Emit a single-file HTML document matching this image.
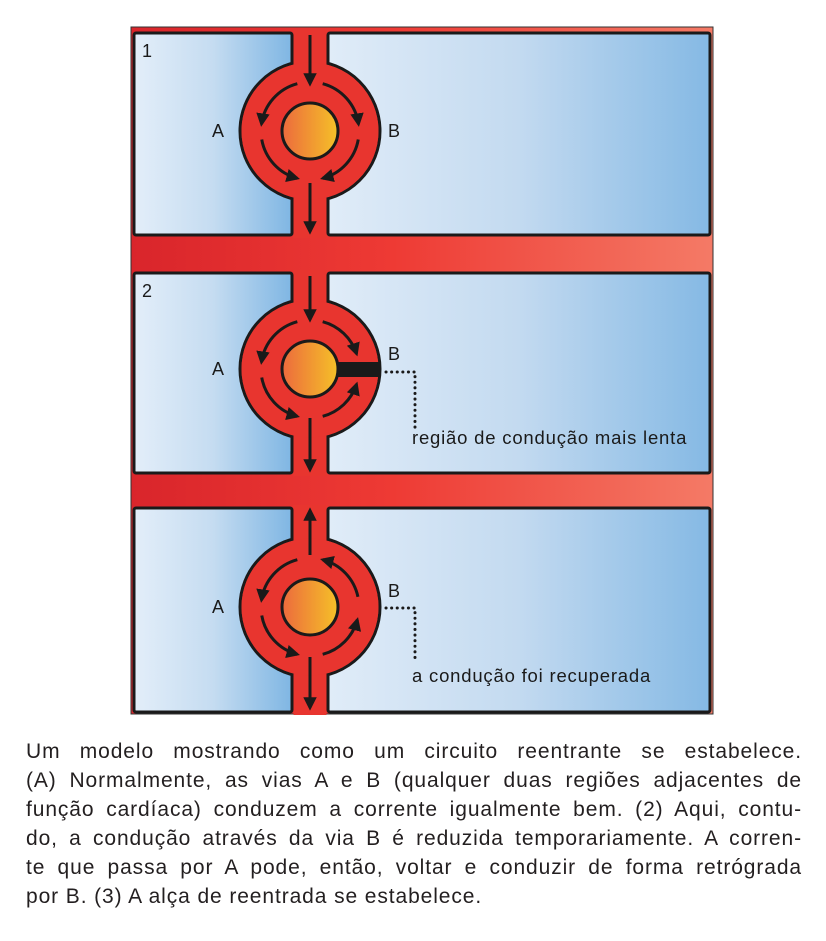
<!DOCTYPE html>
<html><head><meta charset="utf-8"><style>
body{margin:0;background:#fff;width:826px;height:941px;overflow:hidden;font-family:"Liberation Sans",sans-serif}
#cap{position:absolute;left:26px;top:737px;width:776px;font-size:21px;letter-spacing:0.9px;line-height:29px;color:#231f20}
#cap div{text-align:justify;text-align-last:justify;white-space:nowrap}
#cap div.last{text-align-last:left}
</style></head><body>
<svg width="826" height="730" style="position:absolute;left:0;top:0" font-family="Liberation Sans, sans-serif">
<defs>
<linearGradient id="red" x1="0" x2="1"><stop offset="0" stop-color="#d9252b"/><stop offset="0.45" stop-color="#ee3a34"/><stop offset="1" stop-color="#f47a66"/></linearGradient>
<linearGradient id="blueL" x1="0" x2="1"><stop offset="0" stop-color="#e3eef9"/><stop offset="0.5" stop-color="#c5dcf1"/><stop offset="1" stop-color="#7fb6e3"/></linearGradient>
<linearGradient id="blueR" x1="0" x2="1"><stop offset="0" stop-color="#e0ecf8"/><stop offset="0.5" stop-color="#c3daf0"/><stop offset="1" stop-color="#85b9e4"/></linearGradient>
<linearGradient id="orange" x1="0" x2="1"><stop offset="0" stop-color="#ec6a3d"/><stop offset="1" stop-color="#f5c128"/></linearGradient>
<marker id="ah" viewBox="0 0 10 10" refX="8" refY="5" markerWidth="4.5" markerHeight="4.5" orient="auto"><path d="M0,0 L10,5 L0,10 Z" fill="#1a1a1a"/></marker>
</defs>
<rect x="131" y="27" width="582" height="687" fill="url(#red)" stroke="#333" stroke-width="1"/>
<g id="g"></g>
</svg>
<div id="cap">
<div>Um modelo mostrando como um circuito reentrante se estabelece.</div>
<div>(A) Normalmente, as vias A e B (qualquer duas regiões adjacentes de</div>
<div>função cardíaca) conduzem a corrente igualmente bem. (2) Aqui, contu-</div>
<div>do, a condução através da via B é reduzida temporariamente. A corren-</div>
<div>te que passa por A pode, então, voltar e conduzir de forma retrógrada</div>
<div class="last">por B. (3) A alça de reentrada se estabelece.</div>
</div>
<script>
const NS="http://www.w3.org/2000/svg";
const g=document.getElementById('g');
function el(t,a,p){const e=document.createElementNS(NS,t);for(const k in a)e.setAttribute(k,a[k]);(p||g).appendChild(e);return e;}
const cx=310,R=70,ri=28,ra=49;
const panels=[
 {y0:33,y1:235,cy:131,n:'1',bY:131,arcs:[[-15,-82],[15,82],[-100,-165],[100,165]],vert:[[35,84],[183,232]]},
 {y0:273,y1:473,cy:369,n:'2',bY:354,bar:true,arcs:[[-15,-82],[15,72],[-100,-165],[165,108]],vert:[[276,320],[418,470]],note:'região de condução mais lenta',noteY:444,dotY:372,dotEnd:428},
 {y0:508,y1:712,cy:607,n:'',bY:591,arcs:[[-15,-82],[78,15],[-100,-165],[165,105]],vert:[[555,510],[657,708]],note:'a condução foi recuperada',noteY:682,dotY:608,dotEnd:660}
];
function pt(a,r,cy){const t=a*Math.PI/180;return [cx+r*Math.sin(t),cy-r*Math.cos(t)];}
panels.forEach((p,i)=>{
 const L=el('rect',{x:134,y:p.y0,width:158,height:p.y1-p.y0,fill:'url(#blueL)',stroke:'#1a1a1a','stroke-width':3,rx:2});
 
 const Rr=el('rect',{x:328,y:p.y0,width:382,height:p.y1-p.y0,fill:'url(#blueR)',stroke:'#1a1a1a','stroke-width':3,rx:2});
 
 el('circle',{cx:cx,cy:p.cy,r:R,fill:'#e8352f',stroke:'#1a1a1a','stroke-width':3});
 el('rect',{x:293.5,y:p.y0-3,width:33,height:p.y1-p.y0+6,fill:'#e8352f'});
 const ring=el('circle',{cx:cx,cy:p.cy,r:R-1.5,fill:'#e8352f'});
 
 const core=el('circle',{cx:cx,cy:p.cy,r:ri,fill:'url(#orange)',stroke:'#1a1a1a','stroke-width':3});
 
 if(p.bar){const b=el('rect',{x:cx+ri-1,y:p.cy-7,width:R-ri+1,height:15,fill:'#1a1a1a'});}
 p.arcs.forEach(a=>{const s=pt(a[0],ra,p.cy),e=pt(a[1],ra,p.cy);const sw=a[1]>a[0]?1:0;
  const ar=el('path',{d:`M${s[0]},${s[1]} A${ra},${ra} 0 0 ${sw} ${e[0]},${e[1]}`,fill:'none',stroke:'#1a1a1a','stroke-width':3,'marker-end':'url(#ah)'});
  });
 p.vert.forEach(v=>{const ar=el('line',{x1:cx,y1:v[0],x2:cx,y2:v[1],stroke:'#1a1a1a','stroke-width':3,'marker-end':'url(#ah)'});
  });
 if(p.n){const n=el('text',{x:142,y:p.y0+24,'font-size':18,fill:'#1a1a1a'});n.textContent=p.n;
 }
 const A=el('text',{x:212,y:p.cy+6,'font-size':18,fill:'#1a1a1a'});A.textContent='A';
 
 const B=el('text',{x:388,y:p.bY+6,'font-size':18,fill:'#1a1a1a'});B.textContent='B';
 
 if(p.note){
  const d=el('path',{d:`M386,${p.dotY} L415,${p.dotY} L415,${p.dotEnd}`,fill:'none',stroke:'#1a1a1a','stroke-width':3,'stroke-dasharray':'0.1 5.5','stroke-linecap':'round'});
  
  const t=el('text',{x:412,y:p.noteY,'font-size':18.5,'letter-spacing':'0.8',fill:'#1a1a1a'});t.textContent=p.note;
  
 }
});
</script>
</body></html>
